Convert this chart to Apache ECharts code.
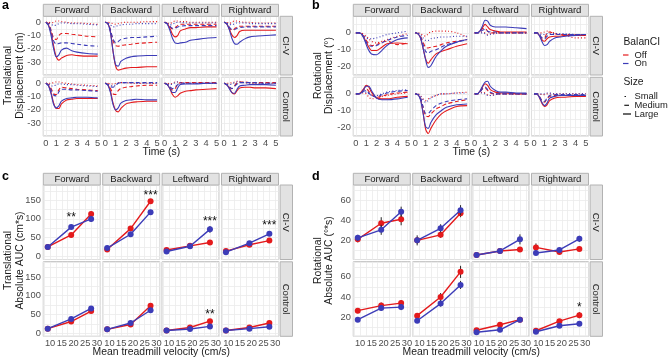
<!DOCTYPE html>
<html><head><meta charset="utf-8">
<script src="https://cdn.jsdelivr.net/npm/echarts@6/dist/echarts.min.js"></script>
<style>html,body{margin:0;padding:0;background:#fff}#c{width:669px;height:360px}</style>
</head><body><div id="c"></div>
<script>
// ---------- categories / ticks ----------
const DIRECTIONS = ['Forward', 'Backward', 'Leftward', 'Rightward'];
const CONDITIONS = ['CI-V', 'Control'];
const BALANCI = ['Off', 'On'];
const SIZES = ['Small', 'Medium', 'Large'];
const TIME = [0, 0.25, 0.5, 0.75, 1, 1.25, 1.5, 2, 2.5, 3, 4, 5];
const VELOCITY = [9, 19, 27.5];
const X_TICKS_TIME = [0, 1, 2, 3, 4, 5];
const X_TICKS_VEL = [10, 15, 20, 25, 30];
const Y_TICKS_A = [0, -10, -20, -30];
const Y_TICKS_B = [0, -10, -20];
const Y_TICKS_C = [0, 50, 100, 150];
const Y_TICKS_D = [20, 40, 60];

// ---------- panel a: translational displacement (cm) ----------
// row order in each cell: Off-Small, Off-Medium, Off-Large, On-Small, On-Medium, On-Large
const a_civ_fwd = [
  [0, 0, -0.5, 0, 1, 1, 0.5, 0, -0.5, -0.5, -1, -1.5],
  [0, -1, -6, -12, -13, -10, -8.5, -8.5, -9, -9.5, -10.5, -11],
  [0, -2, -8, -18, -26, -28.5, -27, -25, -24.5, -25, -25.5, -25.5],
  [0, -0.5, -1.5, -2.5, -2, -1, -0.5, -0.5, -1, -1, -1.5, -2],
  [0, -1.5, -7, -14, -16.5, -16, -15.5, -15.5, -16, -16.5, -17.5, -18],
  [0, -2.5, -10, -20, -26, -24.5, -21, -19.5, -21.5, -22.5, -23.5, -24]];
const a_civ_bwd = [
  [0, 0, -0.5, -1, -1.5, -1, -0.5, 0, 0, 0, 0.5, 0.5],
  [0, -1, -6, -14, -17.5, -18, -17.5, -17, -16.5, -16, -15.5, -15],
  [0, -1, -7, -22, -33, -36, -35.5, -34.5, -34, -34, -33.5, -33.5],
  [0, -0.5, -2, -3.5, -3, -2.5, -2, -1.5, -1.5, -1, -1, -1],
  [0, -1, -6, -12.5, -15.5, -14.5, -13, -12, -11.5, -11.5, -11, -10.5],
  [0, -1, -8, -22, -32, -33, -29.5, -27, -26, -25.5, -25, -25]];
const a_civ_lft = [
  [0, -0.5, -1, 0, 1, 1, 0.5, 0.5, 0, 0, 0, 0],
  [0, -1, -3.5, -5, -4, -2.5, -1.5, -1.5, -1.5, -1.5, -1.5, -1.5],
  [0, -1, -4.5, -9, -11, -10, -6.5, -5, -4, -4, -3.5, -3.5],
  [0, -1, -2, -1.5, -0.5, 0, 0, -0.5, -0.5, -0.5, -0.5, -0.5],
  [0, -1, -3, -4.5, -4.5, -3.5, -3, -2.5, -2.5, -2.5, -2.5, -2.5],
  [0, -1.5, -6, -12, -15.5, -16, -15.5, -15, -13.5, -13, -12, -11.5]];
const a_civ_rgt = [
  [0, 0, -1, 0, 1, 1, 0.5, 0, 0, -0.5, -0.5, -0.5],
  [0, -1, -4, -6, -5, -3.5, -3, -3, -3, -3, -3, -3],
  [0, -1, -5, -9.5, -11.5, -10, -7, -6, -6, -6, -6, -6],
  [0, -0.5, -1.5, -2, -1, -0.5, -0.5, -0.5, -1, -1, -1, -1],
  [0, -1, -3.5, -5.5, -5.5, -4.5, -4, -3.5, -3.5, -3.5, -3.5, -3.5],
  [0, -1, -5.5, -12, -16, -16.5, -15, -12.5, -11, -10.5, -10, -9.5]];
const a_ctl_fwd = [
  [0, 0, 0, 0.5, 1, 1, 0.5, 0, -0.5, -1, -1.5, -2],
  [0, -1, -4, -8, -8.5, -5, -3, -3.5, -4, -4.5, -5, -5.5],
  [0, -1.5, -7, -15, -19, -19, -15.5, -12.5, -12, -11.5, -11.5, -11.5],
  [0, -0.5, -2, -2, -1, -0.5, -0.5, -1, -1, -1.5, -2, -2.5],
  [0, -1.5, -5, -9, -9.5, -6.5, -4.5, -4.5, -5, -5, -5.5, -6],
  [0, -2, -8, -16, -18.5, -17, -13.5, -11.5, -11, -10.5, -10.5, -11]];
const a_ctl_bwd = [
  [0, 0, -0.5, -0.5, 0, 0.5, 0.5, 0.5, 0, 0, 0, 0],
  [0, -1, -4, -8, -8.5, -5.5, -4, -3, -2.5, -2, -1.5, -1.5],
  [0, -1, -6, -15, -20.5, -21.5, -19, -15.5, -14.5, -14, -13.5, -13.5],
  [0, -0.5, -1.5, -2, -1, 0, 0.5, 0.5, 0.5, 0, 0, 0],
  [0, -1, -2.5, -3, -1.5, 0, 0.5, 0.5, 0.5, 0.5, 0.5, 0.5],
  [0, -1.5, -7, -16, -20, -18.5, -15, -13, -12.5, -12, -12.5, -12.5]];
const a_ctl_lft = [
  [0, 0, -0.5, 0, 1, 1, 0.5, 0, 0, 0, 0, 0],
  [0, -1, -3, -5, -4, -1, 0.5, 0.5, 0.5, 0.5, 0.5, 0.5],
  [0, -1, -4, -8.5, -10.5, -9.5, -7.5, -6, -5.5, -5, -4.5, -4],
  [0, -0.5, -1, -0.5, 0.5, 1, 0.5, 0, 0, 0, 0, 0],
  [0, -1, -2.5, -4, -3, -1, 0, 0, 0, 0, 0, 0],
  [0, -1, -4, -7, -7, -3.5, -1, -0.5, -0.5, -0.5, 0, 0]];
const a_ctl_rgt = [
  [0, 0, 0, 0.5, 1, 1.5, 1, 0.5, 0, 0, 0, 0],
  [0, -1, -3, -4, -2, 0.5, 1, 1, 0.5, 0.5, 0.5, 0.5],
  [0, -1, -3.5, -7, -8, -5.5, -3.5, -3, -3, -3.5, -3.5, -4],
  [0, -0.5, -1, -0.5, 0.5, 1, 1, 0.5, 0.5, 0, 0, 0],
  [0, -1, -2.5, -4, -2.5, -0.5, 0.5, 0.5, 0.5, 0.5, 0, 0],
  [0, -1, -4, -7, -7.5, -4.5, -2, -1.5, -1, -1, -1, -1.5]];

// ---------- panel b: rotational displacement (deg) ----------
const b_civ_fwd = [
  [0, 0, 0, -1, -2, -3.5, -5, -6, -5, -4, -2, -0.5],
  [0, 0, -0.5, -2, -4.5, -6.5, -7.5, -7, -5.5, -5, -7, -6],
  [0, 0, -0.5, -2.5, -5.5, -8.5, -10.5, -10.5, -8.5, -6.5, -6, -6.5],
  [0, 0, -0.5, -1.5, -3, -3.5, -3.5, -3, -2, -1, 0, 1],
  [0, 0, -0.5, -2.5, -5.5, -7.5, -8, -7.5, -6, -4.5, -2.5, -1.5],
  [0, 0, -0.5, -3, -7, -10.5, -12.5, -13, -10.5, -7.5, -4, -3]];
const b_civ_bwd = [
  [0, 0, -0.5, -1.5, -2, -0.5, 0.5, 1, 1, 1, 0, -2.5],
  [0, -0.5, -2, -5.5, -8.5, -9, -8.5, -8, -7, -6, -5, -4],
  [0, -0.5, -3, -9, -15.5, -18, -16, -12.5, -11, -10, -8, -6.5],
  [0, 0, -1, -3, -4.5, -4.5, -3.5, -3, -2.5, -2.5, -2, -2],
  [0, -0.5, -2.5, -7, -11, -12, -11, -10, -8.5, -7, -5.5, -4],
  [0, -0.5, -3, -9, -16, -20.5, -19.5, -14, -10.5, -8, -5.5, -4]];
const b_civ_lft = [
  [0, 0, 0.5, 0.5, 0, -1, -0.5, 0, 0, 0, 0, 0],
  [0, 0, 1, 2.5, 2.5, 1, 0, 0, 0, 0, 0, 0],
  [0, 0, 1, 3, 5, 3.5, 2, 1, 0.5, 0.5, 0.5, 0.5],
  [0, 0, 0, 0, -0.5, -1.5, -1, -0.5, 0, 0, 0, 0],
  [0, 0, 0.5, 1.5, 2, 1, 0.5, 0.5, 0, 0, 0, 0],
  [0, 0, 1, 4, 7.5, 7, 4.5, 3.5, 3.5, 3.5, 3, 2.5]];
const b_civ_rgt = [
  [0, 0, 0, 0, 0.5, 1, 0.5, 0, -1, -1.5, -3, -3],
  [0, 0, -1, -3, -3, 0, 0.5, -0.5, -1, -1, -1, -1],
  [0, 0, -1.5, -4, -5, -3.5, -2.5, -2, -2, -1.5, -1.5, -1.5],
  [0, 0, -0.5, -1, -1, -0.5, -0.5, -0.5, -0.5, -0.5, -1, -1],
  [0, 0, -1, -3, -3.5, -2, -1, -1, -1, -1, -1, -1],
  [0, 0, -1.5, -5, -7.5, -7, -5, -3, -2.5, -2, -1.5, -1]];
const b_ctl_fwd = [
  [0, 0, 0.5, 0.5, 0, -2, -3, -2.5, -1.5, -1, 0, 0.5],
  [0, 0, 1, 2.5, 3, 1.5, -0.5, -2, -1.5, -0.5, 0.5, 1],
  [0, 0, 1, 3, 5, 4, 1, -2.5, -3, -3, -2, -1.5],
  [0, 0, 0.5, 1, 1, 0, -1, -1, 0, 1, 2, 2.5],
  [0, 0, 0.5, 1.5, 2, 0.5, -1, -2, -0.5, 0.5, 1.5, 2],
  [0, 0, 0.5, 2.5, 4.5, 4.5, 2, -2.5, -3.5, -3.5, -3, -2]];
const b_ctl_bwd = [
  [0, 0, -1, -3, -4, -3, -2, -1, 0, 0, 0.5, 1],
  [0, -0.5, -2.5, -8, -13, -13.5, -12, -9, -7.5, -6, -4.5, -3.5],
  [0, -0.5, -3, -11, -21, -23.5, -20.5, -15.5, -12, -10, -7.5, -7],
  [0, 0, -1.5, -3.5, -5, -4, -2.5, -1, 0, 0, 0.5, 0.5],
  [0, -0.5, -2.5, -7.5, -11.5, -11.5, -10, -7, -5.5, -4.5, -3.5, -3],
  [0, -0.5, -3.5, -11.5, -19.5, -20.5, -17, -12.5, -10, -8, -6.5, -6]];
const b_ctl_lft = [
  [0, 0, 0.5, 1, 0.5, -0.5, -1, -0.5, 0, 0, 0, 0],
  [0, 0, 1, 3, 3.5, 2, 0.5, 0, 0, 0, 0, 0],
  [0, 0, 1.5, 4, 6, 5, 2.5, 1, 0.5, 0.5, 0, 0],
  [0, 0, 0.5, 0.5, 0, -1, -1, -0.5, 0, 0, 0, 0],
  [0, 0, 1, 3, 4, 2.5, 1, 0, 0, 0, 0, 0],
  [0, 0, 1.5, 4.5, 7, 7.5, 4.5, 2, 1, 1, 0.5, 0.5]];
const b_ctl_rgt = [
  [0, 0, 0, -0.5, -0.5, 0, 0, 0, 0, 0, 0, 0],
  [0, 0, -1.5, -4, -5, -3, -1.5, -1, -1, -1, -1, -1],
  [0, 0, -2, -5.5, -7.5, -6.5, -4, -2.5, -2, -2, -1.5, -1.5],
  [0, 0, 0, 0, 0, 0.5, 0.5, 0, 0, 0, 0, 0],
  [0, 0, -1.5, -4, -4.5, -2.5, -1, -0.5, -0.5, -0.5, -0.5, -0.5],
  [0, 0, -2, -5, -7, -5.5, -2.5, -1.5, -1, -1, -1, -1]];

// ---------- panel c: translational absolute AUC (cm*s) ----------
// [Off values, On values] at VELOCITY; *_err = half error bar
const c_civ_fwd = [[25, 57, 113], [25, 78, 100]];
const c_civ_bwd = [[18, 74, 147], [22, 59, 118]];
const c_civ_lft = [[17, 28, 37], [13, 27, 72]];
const c_civ_rgt = [[14, 31, 42], [11, 35, 60]];
const c_ctl_fwd = [[12, 31, 59], [12, 38, 66]];
const c_ctl_bwd = [[10, 23, 73], [10, 27, 61]];
const c_ctl_lft = [[7, 15, 32], [7, 11, 18]];
const c_ctl_rgt = [[7, 15, 27], [7, 12, 17]];
const c_civ_fwd_err = [[3, 5, 7], [3, 5, 8]];
const c_civ_bwd_err = [[3, 6, 6], [3, 5, 6]];
const c_civ_lft_err = [[3, 3, 4], [3, 3, 9]];
const c_civ_rgt_err = [[3, 3, 6], [3, 4, 5]];
const c_ctl_fwd_err = [[2, 3, 4], [2, 3, 4]];
const c_ctl_bwd_err = [[2, 3, 4], [2, 3, 3]];
const c_ctl_lft_err = [[2, 2, 4], [2, 2, 3]];
const c_ctl_rgt_err = [[2, 2, 3], [2, 2, 3]];

// ---------- panel d: rotational absolute AUC (deg*s) ----------
const d_civ_fwd = [[21, 37, 41], [22.5, 30.5, 48.5]];
const d_civ_bwd = [[20, 25.5, 47], [20, 32, 50]];
const d_civ_lft = [[5.5, 9.5, 11], [5.5, 9.5, 21]];
const d_civ_rgt = [[13, 8.5, 11.5], [7.5, 10.5, 21.5]];
const d_ctl_fwd = [[26.5, 31.5, 34], [17.5, 29, 30]];
const d_ctl_bwd = [[21.5, 40, 65], [16.5, 33.5, 52]];
const d_ctl_lft = [[7, 12.5, 17.5], [5, 7.5, 17.5]];
const d_ctl_rgt = [[6.5, 16, 22], [5.5, 11.5, 13.5]];
const d_civ_fwd_err = [[3, 6, 6], [3, 5, 5]];
const d_civ_bwd_err = [[3, 3, 4], [5, 4, 5]];
const d_civ_lft_err = [[1, 1, 1.5], [1, 1.5, 5]];
const d_civ_rgt_err = [[4, 1.5, 2], [1.5, 1.5, 3]];
const d_ctl_fwd_err = [[2.5, 3, 3], [1.5, 2.5, 3]];
const d_ctl_bwd_err = [[2, 4, 6], [1.5, 3, 4]];
const d_ctl_lft_err = [[1, 1, 1.5], [1, 1, 2]];
const d_ctl_rgt_err = [[1, 2, 3], [1, 1.5, 1.5]];

// significance labels: [row, col, velocity, value, text]
const C_STARS = [[0, 0, 19, 112, '**'], [0, 1, 27.5, 169, '***'], [0, 2, 27.5, 101, '***'], [0, 3, 27.5, 91, '***'], [1, 2, 27.5, 57, '**']];
const D_STARS = [[1, 3, 27.5, 32.5, '*']];

// ---------- registries ----------
const A_CELLS = [[a_civ_fwd, a_civ_bwd, a_civ_lft, a_civ_rgt], [a_ctl_fwd, a_ctl_bwd, a_ctl_lft, a_ctl_rgt]];
const B_CELLS = [[b_civ_fwd, b_civ_bwd, b_civ_lft, b_civ_rgt], [b_ctl_fwd, b_ctl_bwd, b_ctl_lft, b_ctl_rgt]];
const C_CELLS = [[c_civ_fwd, c_civ_bwd, c_civ_lft, c_civ_rgt], [c_ctl_fwd, c_ctl_bwd, c_ctl_lft, c_ctl_rgt]];
const D_CELLS = [[d_civ_fwd, d_civ_bwd, d_civ_lft, d_civ_rgt], [d_ctl_fwd, d_ctl_bwd, d_ctl_lft, d_ctl_rgt]];
const C_ERRS = [[c_civ_fwd_err, c_civ_bwd_err, c_civ_lft_err, c_civ_rgt_err], [c_ctl_fwd_err, c_ctl_bwd_err, c_ctl_lft_err, c_ctl_rgt_err]];
const D_ERRS = [[d_civ_fwd_err, d_civ_bwd_err, d_civ_lft_err, d_civ_rgt_err], [d_ctl_fwd_err, d_ctl_bwd_err, d_ctl_lft_err, d_ctl_rgt_err]];

// ---------- styling / layout ----------
const FONT = '"Liberation Sans", Arial, sans-serif';
const COLORS = { Off: '#e41a1c', On: '#3c3cb8' };
const DASH = { Small: [1, 2.2], Medium: [4, 2.6], Large: 'solid' };
const GRID_COLOR = '#ebebeb', BORDER = '#b2b2b2', STRIP_FILL = '#e2e2e2';
const COL_STEP = 59.4, COL_W = 57;
const X_TIME = { min: -0.25, max: 5.25, step: 0.5, ticks: X_TICKS_TIME };
const X_VEL = { min: 7.1, max: 31.4, step: 2.5, ticks: X_TICKS_VEL };
const LAYOUT = {
  a: { left: 43.3, tops: [16.3, 77.3], h: 58.7, hdrTop: 4.3, hdrH: 12, x: X_TIME, y: { min: -39.7, max: 4.5, step: 5, ticks: Y_TICKS_A } },
  b: { left: 353.3, tops: [16.3, 77.3], h: 58.7, hdrTop: 4.3, hdrH: 12, x: X_TIME, y: { min: -25, max: 9.8, step: 5, ticks: Y_TICKS_B } },
  c: { left: 43.3, tops: [185, 261.8], h: 74.5, hdrTop: 173.3, hdrH: 11.7, x: X_VEL, y: { min: -8.5, max: 190.5, step: 25, ticks: Y_TICKS_C } },
  d: { left: 353.3, tops: [185, 261.8], h: 74.5, hdrTop: 173.3, hdrH: 11.7, x: X_VEL, y: { min: 1, max: 75, step: 10, ticks: Y_TICKS_D } }
};

const opt = { animation: false, textStyle: { fontFamily: FONT }, grid: [], xAxis: [], yAxis: [], series: [], graphic: [] };

function axisCfg(gi, s, show, isX) {
  return {
    type: 'value', gridIndex: gi, min: s.min, max: s.max, minInterval: s.step, maxInterval: s.step,
    splitNumber: Math.round((s.max - s.min) / s.step),
    axisLine: { show: false }, axisTick: { show: false },
    splitLine: { show: true, lineStyle: { color: GRID_COLOR, width: 0.8 } },
    axisLabel: {
      show: show, fontSize: 9.3, color: '#4d4d4d', margin: isX ? 2.5 : 2.5, fontFamily: FONT,
      formatter: v => s.ticks.some(t => Math.abs(t - v) < 1e-6) ? String(Math.round(v)) : ''
    }
  };
}

function makeGrid(p, r, c) {
  const L = LAYOUT[p], gi = opt.grid.length;
  opt.grid.push({ left: L.left + c * COL_STEP, top: L.tops[r], width: COL_W, height: L.h, show: true,
    borderColor: BORDER, borderWidth: 1, backgroundColor: '#fff', containLabel: false, outerBoundsMode: 'none' });
  opt.xAxis.push(axisCfg(gi, L.x, r === 1, true));
  opt.yAxis.push(axisCfg(gi, L.y, c === 0, false));
  return gi;
}

function txt(x, y, text, size, opts) {
  opts = opts || {};
  opt.graphic.push({ type: 'text', x: x, y: y, rotation: opts.rot || 0, silent: true, z: 10,
    style: { text: text, fill: opts.color || '#1a1a1a', fontSize: size, fontFamily: FONT, fontWeight: opts.bold ? 'bold' : 'normal',
      align: opts.align || 'center', verticalAlign: 'middle', textAlign: opts.align || 'center', textVerticalAlign: 'middle' } });
}
function rect(x, y, w, h) {
  opt.graphic.push({ type: 'rect', silent: true, z: 5, shape: { x: x, y: y, width: w, height: h },
    style: { fill: STRIP_FILL, stroke: BORDER, lineWidth: 1 } });
}
function seg(x1, y1, x2, y2, color, width, dash) {
  opt.graphic.push({ type: 'line', silent: true, z: 10, shape: { x1: x1, y1: y1, x2: x2, y2: y2 },
    style: { stroke: color, lineWidth: width, lineDash: dash || null } });
}

function strips(p) {
  const L = LAYOUT[p];
  DIRECTIONS.forEach((d, c) => {
    const x = L.left + c * COL_STEP;
    rect(x, L.hdrTop, COL_W, L.hdrH);
    txt(x + COL_W / 2, L.hdrTop + L.hdrH / 2 + 0.3, d, 9.5);
  });
  const sx = L.left + 3 * COL_STEP + COL_W + 1.6, sw = 12.4;
  CONDITIONS.forEach((cond, r) => {
    rect(sx, L.tops[r], sw, L.h);
    txt(sx + sw / 2 - 0.3, L.tops[r] + L.h / 2, cond, 9.5, { rot: -Math.PI / 2 });
  });
}

// ---------- panels a & b (time courses) ----------
[['a', A_CELLS], ['b', B_CELLS]].forEach(([p, cells]) => {
  for (let r = 0; r < 2; r++) for (let c = 0; c < 4; c++) {
    const gi = makeGrid(p, r, c);
    BALANCI.forEach((bal, bi) => SIZES.forEach((sz, si) => {
      const vals = cells[r][c][bi * 3 + si];
      opt.series.push({ type: 'line', xAxisIndex: gi, yAxisIndex: gi, name: bal + ' ' + sz,
        data: TIME.map((t, i) => [t, vals[i]]), showSymbol: false, symbol: 'none', smooth: 0.3, silent: true,
        lineStyle: { color: COLORS[bal], width: 1.1, type: DASH[sz] }, z: 2 + bi });
    }));
  }
  strips(p);
});

// ---------- panels c & d (AUC vs velocity) ----------
[['c', C_CELLS, C_ERRS, C_STARS], ['d', D_CELLS, D_ERRS, D_STARS]].forEach(([p, cells, errs, stars]) => {
  const gids = [[], []];
  for (let r = 0; r < 2; r++) for (let c = 0; c < 4; c++) {
    const gi = makeGrid(p, r, c);
    gids[r][c] = gi;
    BALANCI.forEach((bal, bi) => {
      const vals = cells[r][c][bi], e = errs[r][c][bi];
      opt.series.push({ type: 'custom', xAxisIndex: gi, yAxisIndex: gi, silent: true, z: 2 + bi * 2,
        data: VELOCITY.map((v, i) => [v, vals[i] - e[i], vals[i] + e[i]]), encode: { x: 0, y: [1, 2] },
        renderItem: (params, api) => {
          const p1 = api.coord([api.value(0), api.value(1)]), p2 = api.coord([api.value(0), api.value(2)]);
          return { type: 'line', shape: { x1: p1[0], y1: p1[1], x2: p2[0], y2: p2[1] }, style: { stroke: '#262626', lineWidth: 1 } };
        } });
      opt.series.push({ type: 'line', xAxisIndex: gi, yAxisIndex: gi, name: bal, silent: true, z: 3 + bi * 2,
        data: VELOCITY.map((v, i) => [v, vals[i]]), symbol: 'circle', symbolSize: 6, showSymbol: true,
        itemStyle: { color: COLORS[bal] }, lineStyle: { color: COLORS[bal], width: 1.4 } });
    });
  }
  stars.forEach(([r, c, x, y, t]) => {
    const gi = gids[r][c];
    opt.series.push({ type: 'custom', xAxisIndex: gi, yAxisIndex: gi, silent: true, z: 8, data: [[x, y]],
      renderItem: (params, api) => {
        const pt = api.coord([api.value(0), api.value(1)]);
        return { type: 'text', x: pt[0], y: pt[1] + 3, style: { text: t, fill: '#111', fontSize: 12, fontFamily: FONT,
          align: 'center', verticalAlign: 'middle' } };
      } });
  });
  strips(p);
});

// ---------- titles, letters, legend ----------
txt(161.3, 152.5, 'Time (s)', 10.4);
txt(471.3, 152.5, 'Time (s)', 10.4);
txt(161.3, 352.5, 'Mean treadmill velocity (cm/s)', 10.4);
txt(471.3, 352.5, 'Mean treadmill velocity (cm/s)', 10.4);
txt(8.5, 75.5, 'Translational', 10.4, { rot: Math.PI / 2 });
txt(20, 75.5, 'Displacement (cm)', 10.4, { rot: Math.PI / 2 });
txt(318, 75.5, 'Rotational', 10.4, { rot: Math.PI / 2 });
txt(329.5, 75.5, 'Displacement (°)', 10.4, { rot: Math.PI / 2 });
txt(8.5, 260.5, 'Translational', 10.4, { rot: Math.PI / 2 });
txt(20, 260.5, 'Absolute AUC (cm*s)', 10.4, { rot: Math.PI / 2 });
txt(318, 260.5, 'Rotational', 10.4, { rot: Math.PI / 2 });
txt(329.5, 260.5, 'Absolute AUC (°*s)', 10.4, { rot: Math.PI / 2 });
txt(2, 5.5, 'a', 12.5, { bold: true, align: 'left', color: '#000' });
txt(312, 5.5, 'b', 12.5, { bold: true, align: 'left', color: '#000' });
txt(2, 176.5, 'c', 12.5, { bold: true, align: 'left', color: '#000' });
txt(312, 176.5, 'd', 12.5, { bold: true, align: 'left', color: '#000' });

txt(623.5, 42.5, 'BalanCI', 10.3, { align: 'left' });
seg(623, 55, 628.5, 55, COLORS.Off, 1.2);
txt(634.5, 55, 'Off', 9.4, { align: 'left' });
seg(623, 63.5, 628.5, 63.5, COLORS.On, 1.2);
txt(634.5, 63.5, 'On', 9.4, { align: 'left' });
txt(623.5, 81.7, 'Size', 10.3, { align: 'left' });
seg(624.5, 96.5, 626, 96.5, '#1a1a1a', 1.1);
txt(634.5, 96.7, 'Small', 9.4, { align: 'left' });
seg(624.3, 105.3, 629, 105.3, '#1a1a1a', 1.2);
txt(634.5, 105.3, 'Medium', 9.4, { align: 'left' });
seg(623, 114, 631, 114, '#1a1a1a', 1.3);
txt(634.5, 114, 'Large', 9.4, { align: 'left' });

const chart = echarts.init(document.getElementById('c'), null, { renderer: 'canvas' });
chart.setOption(opt);
</script>
</body></html>
